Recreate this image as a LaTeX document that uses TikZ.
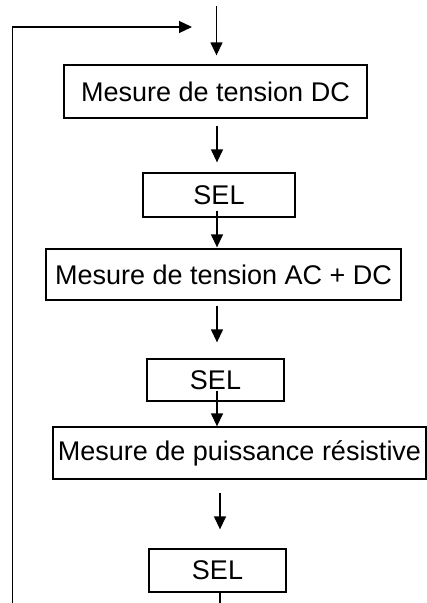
\documentclass[tikz,border=0pt]{standalone}
\usepackage{fontspec}
\setmainfont{Liberation Sans}
\usetikzlibrary{arrows.meta}

\tikzset{
  box/.style={draw, line width=1.3pt, inner sep=0pt, font=\fontsize{27}{32}\selectfont},
  flow/.style={line width=1.3pt, -{Triangle[length=13pt,width=12pt]}},
}

\begin{document}
\begin{tikzpicture}[x=1pt, y=-1pt]
    \useasboundingbox (0,0) rectangle (427,603);
    \node[box, minimum width=303pt, minimum height=53pt] (dc) at (215.5,91.5) {Mesure de tension DC};
    \node[box, minimum width=152pt, minimum height=44pt] (sel1) at (219,195) {SEL};
    \node[box, minimum width=355pt, minimum height=51pt] (acdc) at (223.5,274.5) {Mesure de tension AC + DC};
    \node[box, minimum width=137pt, minimum height=42pt] (sel2) at (215.5,380) {SEL};
    \node[box, minimum width=373pt, minimum height=52pt] (res) at (239.5,453) {Mesure de puissance résistive};
    \node[box, minimum width=137pt, minimum height=43pt] (sel3) at (217.5,570.5) {SEL};
    \coordinate (in) at (216.5,6);
    \coordinate (ret) at (12.5,603);
    \coordinate (back) at (192,27);
    \coordinate (out) at (220,603);
    \coordinate (col) at (217,0);
    \coordinate (col2) at (220,0);
    \path[flow]
    (in) edge[shorten >=9pt] (dc.north -| in)
    (dc.south -| col) edge[shorten <=7pt, shorten >=10pt] (sel1.north -| col)
    (sel1.south -| col) edge[shorten <=-7pt, shorten >=1pt] (acdc.north -| col)
    (acdc.south -| col) edge[shorten <=5pt, shorten >=16pt] (sel2.north -| col)
    (sel2.south -| col) edge[shorten <=-11pt] (res.north -| col)
    (res.south -| col2) edge[shorten <=13pt, shorten >=19pt] (sel3.north -| col2);
    \draw[line width=1.3pt] (sel3.south -| col2) -- (out);
    \draw[flow] (ret) |- (back);
\end{tikzpicture}
\end{document}
